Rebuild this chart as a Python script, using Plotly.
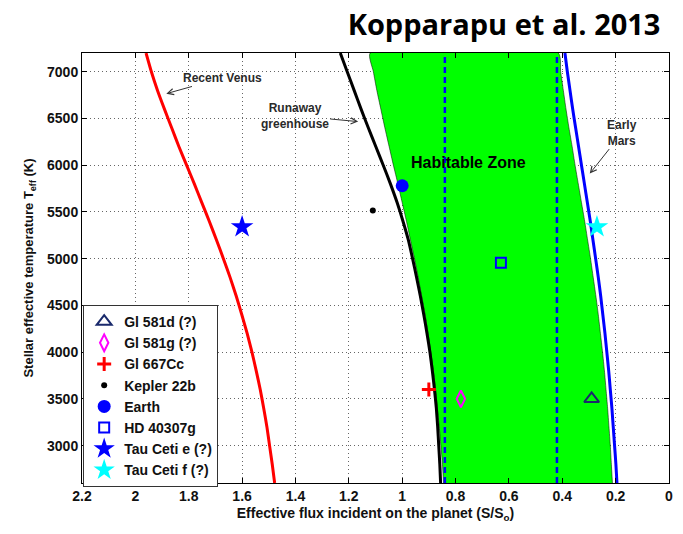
import plotly.graph_objects as go

# Stellar effective temperature grid (K) for the habitable-zone boundaries
teff_grid = [2600, 2800, 3000, 3200, 3400, 3600, 3800, 4000, 4200, 4400, 4600, 4800,
             5000, 5200, 5400, 5600, 5800, 6000, 6200, 6400, 6600, 6800, 7000, 7200]

# Effective flux S/So of each boundary along teff_grid
s_recent_venus = [1.478, 1.487, 1.497, 1.507, 1.519, 1.532, 1.547, 1.563, 1.581, 1.601, 1.622, 1.645,
                  1.670, 1.696, 1.723, 1.751, 1.779, 1.808, 1.837, 1.864, 1.891, 1.917, 1.940, 1.960]
s_runaway = [0.856, 0.859, 0.863, 0.867, 0.872, 0.879, 0.887, 0.896, 0.907, 0.919, 0.932, 0.946,
             0.961, 0.977, 0.997, 1.019, 1.044, 1.071, 1.099, 1.127, 1.154, 1.180, 1.206, 1.232]
s_moist = [0.845, 0.849, 0.855, 0.861, 0.868, 0.875, 0.883, 0.893, 0.903, 0.914, 0.927, 0.940,
           0.954, 0.969, 0.984, 1.000, 1.016, 1.033, 1.049, 1.065, 1.080, 1.095, 1.108, 1.120]
s_max_greenhouse = [0.212, 0.216, 0.220, 0.225, 0.230, 0.236, 0.242, 0.249, 0.257, 0.265, 0.274, 0.284,
                    0.294, 0.305, 0.316, 0.328, 0.340, 0.352, 0.363, 0.375, 0.386, 0.396, 0.406, 0.415]
s_early_mars = [0.195, 0.199, 0.204, 0.209, 0.214, 0.220, 0.226, 0.233, 0.240, 0.248, 0.256, 0.265,
                0.275, 0.285, 0.295, 0.306, 0.317, 0.328, 0.339, 0.350, 0.361, 0.371, 0.381, 0.390]

# Dashed reference flux limits
dashed_flux = [0.84, 0.42]

# Planets
planet_names = ["Gl 581d (?)", "Gl 581g (?)", "Gl 667Cc", "Kepler 22b", "Earth",
                "HD 40307g", "Tau Ceti e (?)", "Tau Ceti f (?)"]
planet_flux = [0.29, 0.78, 0.90, 1.11, 1.00, 0.63, 1.60, 0.27]
planet_teff = [3500, 3500, 3600, 5516, 5780, 4955, 5340, 5340]
planet_symbols = ["triangle-up-open", "diamond-tall-open", "cross-thin-open", "circle", "circle",
                  "square-open", "star", "star"]
planet_colors = ["#1a2a6c", "#ff00ff", "#ff0000", "#000000", "#0000ff", "#0000ff", "#0000ff", "#00ffff"]
planet_sizes = [13, 12, 10, 6, 13, 10, 17, 17]
planet_line_widths = [2, 2, 3, 0, 0, 2, 0, 0]

# Axis ranges and ticks
x_range = [2.2, 0]
y_range = [2600, 7200]
x_tickvals = [2.2, 2.0, 1.8, 1.6, 1.4, 1.2, 1.0, 0.8, 0.6, 0.4, 0.2, 0.0]
x_ticktext = ["2.2", "2", "1.8", "1.6", "1.4", "1.2", "1", "0.8", "0.6", "0.4", "0.2", "0"]
y_tickvals = [3000, 3500, 4000, 4500, 5000, 5500, 6000, 6500, 7000]

FONT = "Liberation Sans, Arial, sans-serif"

fig = go.Figure()

# Habitable zone: moist greenhouse (inner) to maximum greenhouse (outer)
fig.add_trace(go.Scatter(
    x=s_moist + s_max_greenhouse[::-1],
    y=teff_grid + teff_grid[::-1],
    fill="toself", fillcolor="#00ff00", mode="lines",
    line=dict(color="rgba(0,0,0,0.65)", width=0.8, shape="spline", smoothing=0.6),
    showlegend=False, hoverinfo="skip"))

for xv in dashed_flux:
    fig.add_trace(go.Scatter(
        x=[xv, xv], y=y_range, mode="lines",
        line=dict(color="#0000ff", width=2.5, dash="6px,4px"),
        showlegend=False, hoverinfo="skip"))

for s_vals, col in [(s_recent_venus, "#ff0000"), (s_runaway, "#000000"), (s_early_mars, "#0000ff")]:
    fig.add_trace(go.Scatter(
        x=s_vals, y=teff_grid, mode="lines",
        line=dict(color=col, width=3, shape="spline", smoothing=0.6),
        showlegend=False, hoverinfo="skip"))

for name, fx, ty, sym, col, sz, lw in zip(planet_names, planet_flux, planet_teff, planet_symbols,
                                          planet_colors, planet_sizes, planet_line_widths):
    fig.add_trace(go.Scatter(
        x=[fx], y=[ty], mode="markers", name=name,
        marker=dict(symbol=sym, color=col, size=sz, line=dict(color=col, width=lw))))

ann_font = dict(family=FONT, size=12, color="#2a2a2a", weight="bold")
arrow_style = dict(showarrow=True, axref="x", ayref="y", arrowhead=5, arrowsize=1.2,
                   arrowwidth=1, arrowcolor="#333333", font=ann_font)
annotations = [
    # label text sits at (ax, ay); the arrow points to (x, y)
    dict(x=1.884, y=6765, ax=1.674, ay=6933, text="Recent Venus", **arrow_style),
    dict(x=1.165, y=6466, ax=1.403, ay=6530, text="Runaway<br>greenhouse", **arrow_style),
    dict(x=0.297, y=5910, ax=0.175, ay=6349, text="Early<br>Mars", **arrow_style),
    dict(x=0.752, y=6029, text="Habitable Zone", showarrow=False,
         font=dict(family=FONT, size=16, color="#000000", weight="bold")),
]

axis_common = dict(
    showline=True, linecolor="#000000", linewidth=1, mirror="ticks",
    ticks="inside", ticklen=5, tickcolor="#000000",
    showgrid=True, gridcolor="rgba(0,0,0,0.6)", gridwidth=1, griddash="1px,3px",
    zeroline=False,
    tickfont=dict(family=FONT, size=14, color="#111111", weight="bold"),
)

fig.update_layout(
    width=683, height=534,
    margin=dict(l=82, r=10, t=53, b=51),
    paper_bgcolor="white", plot_bgcolor="white",
    title=dict(text="Kopparapu et al. 2013", x=0.738, xanchor="center", y=0.953, yanchor="middle",
               font=dict(family="Open Sans, Lato, sans-serif", size=29, color="#000000", weight="bold")),
    xaxis=dict(range=x_range, tickvals=x_tickvals, ticktext=x_ticktext,
               title=dict(text="Effective flux incident on the planet (S/S<sub>o</sub>)", standoff=5,
                          font=dict(family=FONT, size=14, color="#111111", weight="bold")),
               **axis_common),
    yaxis=dict(range=y_range, tickvals=y_tickvals,
               title=dict(text="Stellar effective temperature T<sub>eff</sub> (K)", standoff=10,
                          font=dict(family=FONT, size=13, color="#111111", weight="bold")),
               **axis_common),
    legend=dict(x=0.002, y=0.414, xanchor="left", yanchor="top",
                bgcolor="white", bordercolor="#333333", borderwidth=1,
                font=dict(family=FONT, size=14, color="#111111", weight="bold"),
                tracegroupgap=0),
    annotations=annotations,
    showlegend=True,
)

fig.write_html("out.html")
